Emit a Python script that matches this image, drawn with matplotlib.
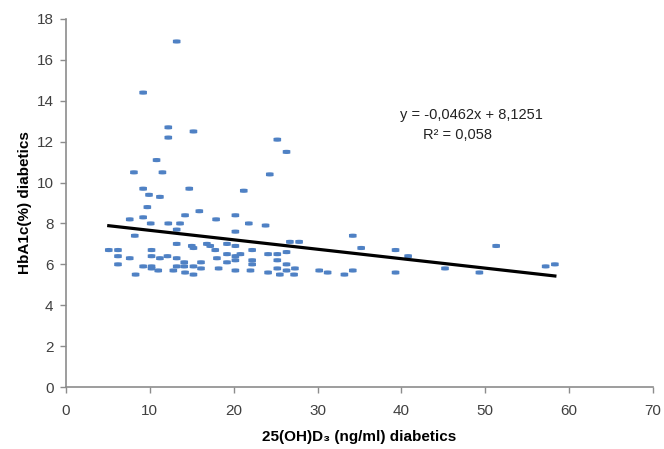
import matplotlib
matplotlib.use("Agg")
import matplotlib.pyplot as plt
import numpy as np
from matplotlib.path import Path

plt.rcParams['font.family'] = ['Liberation Sans', 'DejaVu Sans']

vitd = [13.2, 9.2, 12.2, 12.2, 15.2, 25.2, 26.3, 10.8, 8.1, 11.5, 24.3, 9.2, 9.9, 11.2, 14.7, 21.2,
        9.7, 7.6, 9.2, 10.1, 12.2, 13.6, 14.2, 15.9, 17.9, 20.2, 21.8, 23.8, 13.2, 20.2, 8.2,
        5.1, 6.2, 6.2, 7.6, 6.2, 8.3,
        10.2, 10.2, 11.2, 12.1, 13.2, 13.2, 15.0, 15.2,
        9.2, 10.2, 10.2, 11.0, 12.8, 13.2, 14.1, 14.1, 15.2, 16.1, 14.2, 15.2, 16.1,
        16.8, 17.2, 17.8, 19.2, 20.2, 20.8, 20.2, 20.2, 19.2, 22.2, 18.0, 19.2, 22.2, 22.2, 18.2, 20.2, 22.0,
        24.1, 25.2, 26.3, 26.7, 27.8, 25.2, 26.3, 27.3, 25.2, 26.3, 24.1, 25.5, 27.2,
        34.2, 35.2, 39.3, 40.8, 30.2, 31.2, 33.2, 34.2, 39.3, 45.2, 49.3, 51.3, 57.2, 58.3]
hba1c = [16.9, 14.4, 12.7, 12.2, 12.5, 12.1, 11.5, 11.1, 10.5, 10.5, 10.4, 9.7, 9.4, 9.3, 9.7, 9.6,
         8.8, 8.2, 8.3, 8.0, 8.0, 8.0, 8.4, 8.6, 8.2, 8.4, 8.0, 7.9, 7.7, 7.6, 7.4,
         6.7, 6.7, 6.4, 6.3, 6.0, 5.5,
         6.7, 6.4, 6.3, 6.4, 6.3, 7.0, 6.9, 6.8,
         5.9, 5.9, 5.8, 5.7, 5.7, 5.9, 6.1, 5.9, 5.9, 6.1, 5.6, 5.5, 5.8,
         7.0, 6.9, 6.7, 7.0, 6.9, 6.5, 6.4, 6.2, 6.5, 6.7, 6.3, 6.1, 6.2, 6.0, 5.8, 5.7, 5.7,
         6.5, 6.5, 6.6, 7.1, 7.1, 6.2, 6.0, 5.8, 5.8, 5.7, 5.6, 5.5, 5.5,
         7.4, 6.8, 6.7, 6.4, 5.7, 5.6, 5.5, 5.7, 5.6, 5.8, 5.6, 6.9, 5.9, 6.0]

slope = -0.0462
intercept = 8.1251
eq_text = "y = -0,0462x + 8,1251"
r2_text = "R² = 0,058"

xticks = [0, 10, 20, 30, 40, 50, 60, 70]
yticks = [0, 2, 4, 6, 8, 10, 12, 14, 16, 18]

fig = plt.figure(figsize=(6.64, 4.49), dpi=100)
ax = fig.add_axes([0.0994, 0.138, 0.884, 0.8197])

# rounded horizontal dash marker
t = np.linspace(0, 2 * np.pi, 40)
verts = np.column_stack([np.clip(1.6 * np.cos(t), -1.0, 1.0), 0.55 * np.sin(t)])
dash = Path(verts, closed=True)

ax.scatter(vitd, hba1c, marker=dash, s=30, color='#4f81c4', edgecolors='none', zorder=3)

xl = np.array([min(vitd), max(vitd)])
ax.plot(xl, slope * xl + intercept, color='black', lw=2.3, zorder=4)

ax.text(48.3, 13.3, eq_text, ha='center', va='center', fontsize=10.5, color='#222222')
ax.text(46.7, 12.35, r2_text, ha='center', va='center', fontsize=10.5, color='#222222')

ax.set_xlim(0, 70)
ax.set_ylim(0, 18)
ax.set_xticks(xticks)
ax.set_yticks(yticks)
for s in ['top', 'right']:
    ax.spines[s].set_visible(False)
for s in ['left', 'bottom']:
    ax.spines[s].set_color('#8c8c8c')
    ax.spines[s].set_linewidth(1.2)
ax.tick_params(axis='both', direction='out', length=4, color='#8c8c8c', labelsize=11,
               labelcolor='#404040', width=1)
ax.tick_params(axis='x', pad=8)
ax.tick_params(axis='y', pad=5)

ax.set_xlabel("25(OH)D₃ (ng/ml) diabetics", fontsize=11, fontweight='bold', labelpad=9)
ax.set_ylabel("HbA1c(%) diabetics", fontsize=11, fontweight='bold', labelpad=3)

fig.savefig("out.png", dpi=100)
